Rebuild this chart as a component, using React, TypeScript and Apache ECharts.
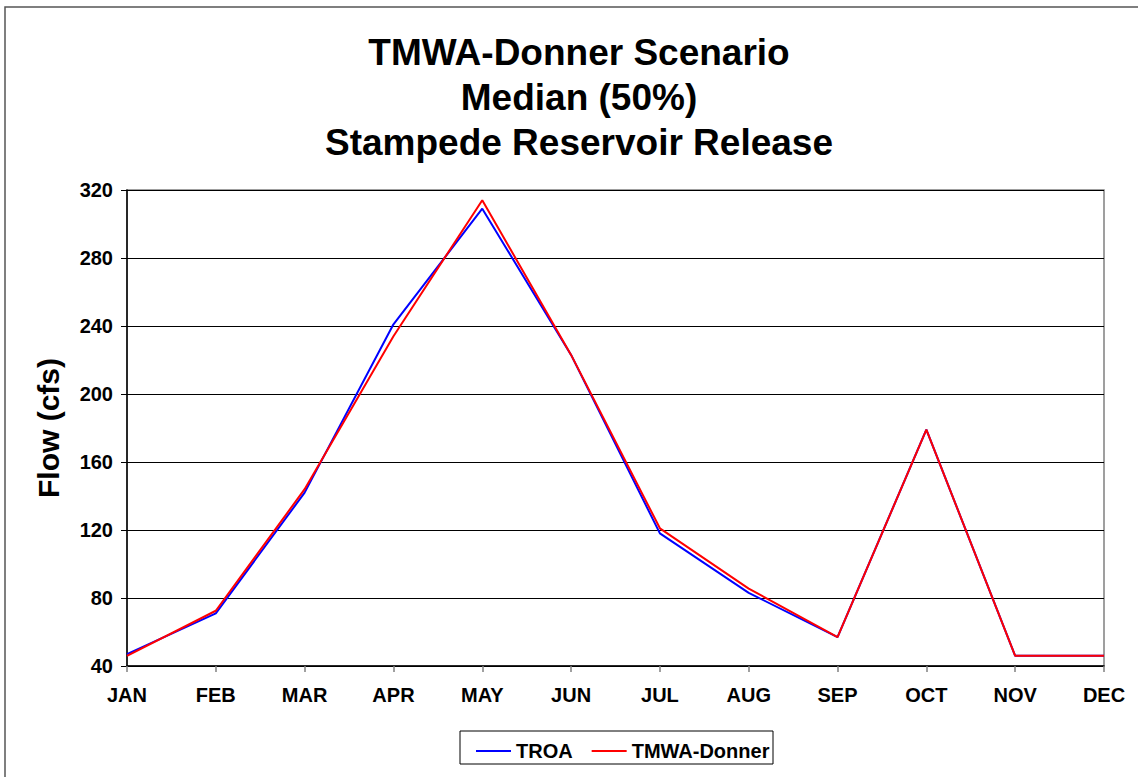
import React, { useEffect, useRef } from "react";
import * as echarts from "echarts";

const months = ["JAN", "FEB", "MAR", "APR", "MAY", "JUN", "JUL", "AUG", "SEP", "OCT", "NOV", "DEC"];
const troa = [47, 71, 142, 241, 309, 223, 118, 83, 57, 179, 46, 46];
const tmwaDonner = [46, 72.5, 144, 234, 314, 223, 121, 85.5, 57, 179, 46, 46];
const titleLines = ["TMWA-Donner Scenario", "Median (50%)", "Stampede Reservoir Release"];
const yAxisName = "Flow (cfs)";

export default function App() {
  const ref = useRef<HTMLDivElement>(null);
  useEffect(() => {
    document.body.style.margin = "0";
    const chart = echarts.init(ref.current!, null, { renderer: "svg" });
    const font = "Arial, 'Liberation Sans', Helvetica, sans-serif";
    chart.setOption({
      animation: false,
      backgroundColor: "#ffffff",
      textStyle: { fontFamily: font },
      title: {
        text: titleLines.join("\n"),
        left: 574,
        textAlign: "center",
        top: 25,
        textStyle: { fontSize: 37, fontWeight: "bold", color: "#000", lineHeight: 45, fontFamily: font },
      },
      graphic: [
        {
          type: "rect",
          shape: { x: 5, y: 7, width: 1160, height: 800 },
          style: { fill: "none", stroke: "#555", lineWidth: 1.5 },
          silent: true,
        },
        {
          type: "rect",
          shape: { x: 460, y: 731, width: 313, height: 33 },
          style: { fill: "none", stroke: "#000", lineWidth: 1 },
          silent: true,
        },
      ],
      legend: {
        left: 471,
        top: 736,
        itemWidth: 35,
        itemHeight: 2,
        itemGap: 19,
        textStyle: { fontSize: 20, fontWeight: "bold", color: "#000", fontFamily: font },
        data: [
          { name: "TROA", icon: "path://M0,0 L35,0 L35,2 L0,2 Z", itemStyle: { color: "#0000ff" } },
          { name: "TMWA-Donner", icon: "path://M0,0 L35,0 L35,2 L0,2 Z", itemStyle: { color: "#ff0000" } },
        ],
      },
      grid: {
        left: 127,
        right: 34,
        top: 190,
        bottom: 111,
        show: true,
        borderColor: "#808080",
        borderWidth: 1.5,
        backgroundColor: "#ffffff",
      },
      xAxis: {
        type: "category",
        data: months,
        boundaryGap: false,
        axisLine: { lineStyle: { color: "#000", width: 1.5 } },
        axisTick: { show: true, inside: false, length: 6, lineStyle: { color: "#808080", width: 1.5 } },
        axisLabel: { fontSize: 20, fontWeight: "bold", color: "#000", margin: 19, fontFamily: font },
        splitLine: { show: false },
      },
      yAxis: {
        type: "value",
        min: 40,
        max: 320,
        interval: 40,
        name: yAxisName,
        nameLocation: "middle",
        nameGap: 64,
        nameTextStyle: { fontSize: 30, fontWeight: "bold", color: "#000", fontFamily: font },
        axisLine: { show: true, lineStyle: { color: "#000", width: 1.5 } },
        axisTick: { show: true, inside: false, length: 6, lineStyle: { color: "#000", width: 1 } },
        axisLabel: { fontSize: 20, fontWeight: "bold", color: "#000", margin: 14, fontFamily: font },
        splitLine: { show: true, lineStyle: { color: "#000", width: 1 } },
      },
      series: [
        {
          name: "TROA",
          type: "line",
          data: troa,
          showSymbol: false,
          symbol: "none",
          lineStyle: { color: "#0000ff", width: 2 },
          itemStyle: { color: "#0000ff" },
          z: 3,
        },
        {
          name: "TMWA-Donner",
          type: "line",
          data: tmwaDonner,
          showSymbol: false,
          symbol: "none",
          lineStyle: { color: "#ff0000", width: 2 },
          itemStyle: { color: "#ff0000" },
          z: 4,
        },
      ],
    });
    return () => chart.dispose();
  }, []);
  return <div ref={ref} style={{ width: 1138, height: 777 }} />;
}
